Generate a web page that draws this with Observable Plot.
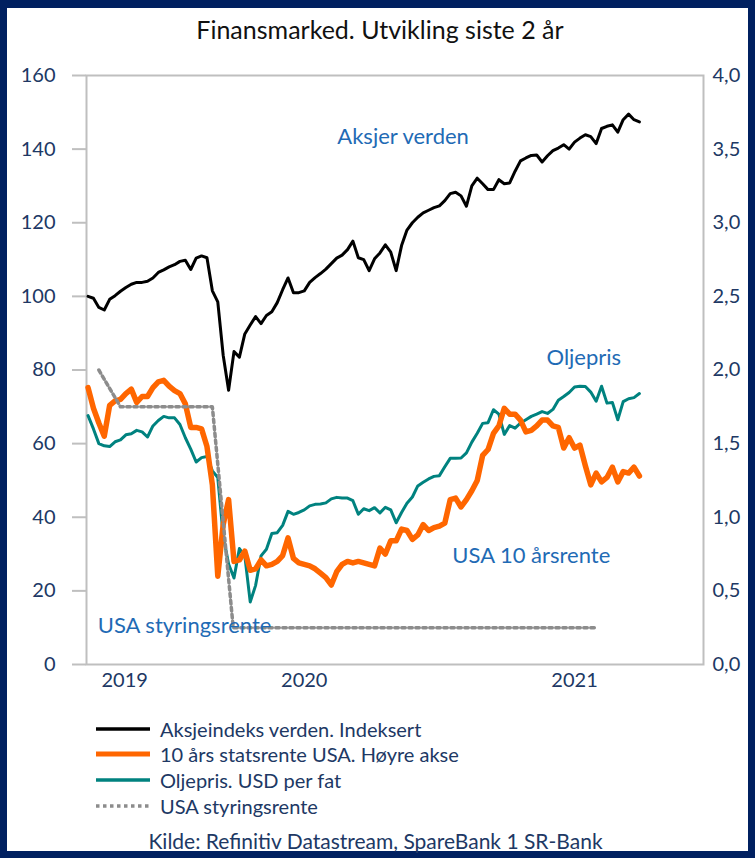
<!DOCTYPE html>
<html><head><meta charset="utf-8">
<script src="https://cdn.jsdelivr.net/npm/d3@7"></script>
<script src="https://cdn.jsdelivr.net/npm/@observablehq/plot@0.6"></script>
<style>
html,body{margin:0;padding:0;background:#fff;}
#page{position:relative;width:755px;height:858px;background:#002060;overflow:hidden;font-family:Lato,"Open Sans",sans-serif;}
#inner{position:absolute;left:7px;top:8px;width:741px;height:843px;background:#fff;}
#chart{position:absolute;left:0;top:0;}
#title{position:absolute;left:0;width:760px;top:14px;text-align:center;font-size:25px;color:#111;}
#legend{position:absolute;left:96px;top:716px;color:#203864;font-size:20px;}
.row{display:flex;align-items:center;height:25.6px;}
.row svg{margin-right:10px;}
#caption{position:absolute;left:0;width:751px;top:828px;text-align:center;font-size:21px;color:#203864;}
</style></head>
<body>
<div id="page">
  <div id="inner"></div>
  <div id="title"></div>
  <div id="chart"></div>
  <div id="legend"></div>
  <div id="caption"></div>
</div>
<script>
// ---------- data ----------
const titleText = "Finansmarked. Utvikling siste 2 år";
const captionText = "Kilde: Refinitiv Datastream, SpareBank 1 SR-Bank";
const startDate = "2019-09-26";           // weekly observations from this date
const stockIndex = [100.0, 99.5, 97.0, 96.3, 99.2, 100.2, 101.4, 102.4, 103.3, 103.8,
 103.8, 104.1, 105.0, 106.5, 107.2, 108.0, 108.6, 109.5, 109.8, 107.3,
 110.4, 111.0, 110.5, 101.5, 98.5, 84.0, 74.5, 85.0, 83.5, 89.8,
 92.2, 94.5, 92.6, 94.8, 95.8, 98.3, 101.8, 105.0, 101.0, 101.0,
 101.5, 103.8, 105.1, 106.2, 107.4, 108.9, 110.4, 111.2, 112.7, 115.0,
 110.5, 110.0, 107.0, 110.2, 111.8, 114.0, 112.0, 107.0, 113.8, 118.0,
 120.0, 121.5, 122.7, 123.4, 124.1, 124.6, 126.0, 127.9, 128.3, 127.3,
 124.5, 130.0, 132.1, 130.6, 129.0, 129.0, 131.7, 130.6, 130.8, 134.0,
 136.8, 137.6, 138.3, 138.4, 136.5, 138.2, 139.6, 140.3, 141.2, 140.0,
 141.9, 143.0, 143.9, 143.4, 141.5, 145.6, 146.2, 146.6, 144.6, 148.0,
 149.5, 148.0, 147.4];
const us10y = [1.88, 1.74, 1.64, 1.55, 1.76, 1.79, 1.80, 1.84, 1.87, 1.78,
 1.82, 1.82, 1.88, 1.92, 1.93, 1.89, 1.86, 1.84, 1.77, 1.61,
 1.61, 1.60, 1.48, 1.22, 0.60, 0.95, 1.12, 0.70, 0.71, 0.77,
 0.64, 0.65, 0.71, 0.67, 0.68, 0.70, 0.74, 0.86, 0.72, 0.69,
 0.68, 0.67, 0.65, 0.62, 0.59, 0.54, 0.63, 0.68, 0.70, 0.69,
 0.70, 0.69, 0.68, 0.67, 0.79, 0.75, 0.84, 0.84, 0.92, 0.91,
 0.85, 0.88, 0.95, 0.91, 0.93, 0.94, 0.96, 1.12, 1.13, 1.07,
 1.12, 1.18, 1.25, 1.42, 1.46, 1.57, 1.62, 1.74, 1.70, 1.70,
 1.66, 1.58, 1.59, 1.62, 1.66, 1.66, 1.62, 1.61, 1.47, 1.54,
 1.47, 1.49, 1.35, 1.22, 1.30, 1.24, 1.27, 1.34, 1.24, 1.31,
 1.30, 1.34, 1.28];
const oilPrice = [67.6, 64.0, 60.0, 59.4, 59.2, 60.5, 61.0, 62.4, 62.7, 63.6,
 63.2, 61.8, 64.8, 66.3, 67.4, 67.0, 67.0, 65.2, 61.6, 58.5,
 55.0, 56.2, 56.5, 52.6, 50.8, 35.0, 27.3, 23.5, 31.5, 29.5,
 17.0, 21.5, 29.5, 31.3, 35.6, 35.8, 37.8, 41.6, 40.8, 41.3,
 42.0, 43.1, 43.5, 43.6, 43.9, 45.0, 45.4, 45.2, 45.2, 44.5,
 40.8, 42.3, 41.8, 42.6, 41.2, 42.7, 42.0, 38.5, 41.3, 43.8,
 45.5, 48.5, 49.5, 50.4, 51.1, 51.3, 53.7, 56.0, 56.0, 56.1,
 57.5, 60.4, 62.8, 65.5, 65.7, 69.2, 68.0, 62.5, 64.9, 64.2,
 65.6, 66.5, 67.4, 68.0, 68.7, 68.2, 69.3, 71.8, 72.8, 73.9,
 75.4, 75.6, 75.5, 74.0, 71.5, 75.6, 71.0, 71.2, 66.5, 71.4,
 72.2, 72.5, 73.6];
const fedDates = ["2019-10-10", "2019-11-07", "2020-03-05", "2020-04-01", "2021-07-17"];
const fedRate = [2.0, 1.75, 1.75, 0.25, 0.25];
const leftTicks = [0, 20, 40, 60, 80, 100, 120, 140, 160];
const rightTickLabels = ["0,0", "0,5", "1,0", "1,5", "2,0", "2,5", "3,0", "3,5", "4,0"];
const yearLabels = ["2019", "2020", "2021"];
const xDomain = ["2019-09-24", "2021-12-01"];
const annoText = ["Aksjer verden", "Oljepris", "USA 10 årsrente", "USA styringsrente"];
const annoDates = ["2020-11-07", "2021-06-29", "2021-04-22", "2020-01-29"];
const annoValues = [143.2, 83.4, 29.6, 10.6];
const legendLabels = ["Aksjeindeks verden. Indeksert", "10 års statsrente USA. Høyre akse", "Oljepris. USD per fat", "USA styringsrente"];

// ---------- styles ----------
const FONT = "Lato, 'Open Sans', sans-serif";
const NAVY = "#203864", BLUE = "#1f6bb5", GRID = "#bfbfbf";
const BLACK = "#000000", ORANGE = "#ff6600", TEAL = "#00827f", GRAY = "#8c8c8c";
const RIGHT_SCALE = 40; // right axis (%) -> left axis units

const parse = s => new Date(s + "T00:00:00Z");
const x0 = parse(xDomain[0]), x1 = parse(xDomain[1]);
const weekly = arr => arr.map((v, i) => ({date: d3.utcDay.offset(parse(startDate), 7 * i), v}));
const stockData = weekly(stockIndex);
const oilData = weekly(oilPrice);
const rateData = weekly(us10y);
const fedData = fedDates.map((d, i) => ({date: parse(d), v: fedRate[i]}));
const annoData = annoText.map((t, i) => ({t, date: parse(annoDates[i]), v: annoValues[i]}));
const yearMid = yearLabels.map(y => {
  const a = Math.max(+parse(`${y}-01-01`), +x0), b = Math.min(+parse(`${+y + 1}-01-01`), +x1);
  return new Date((a + b) / 2);
});

const chart = Plot.plot({
  width: 755, height: 700,
  marginTop: 75, marginLeft: 86, marginRight: 52, marginBottom: 36,
  style: {fontFamily: FONT, fontSize: "20px", background: "transparent", overflow: "visible"},
  x: {type: "utc", domain: [x0, x1]},
  y: {domain: [0, 160]},
  marks: [
    Plot.frame({stroke: GRID, strokeWidth: 2}),
    Plot.axisY(leftTicks, {anchor: "left", tickSize: 14, tickPadding: 17, stroke: GRID, strokeWidth: 2, color: NAVY, fill: NAVY, label: null, fontSize: 20}),
    Plot.axisY(leftTicks, {anchor: "right", tickSize: 0, tickPadding: 9, color: NAVY, fill: NAVY, label: null, fontSize: 20,
      tickFormat: d => rightTickLabels[leftTicks.indexOf(d)]}),
    Plot.axisX(yearMid, {anchor: "bottom", tickSize: 0, tickPadding: 8, color: NAVY, fill: NAVY, label: null, fontSize: 20,
      tickFormat: d => yearLabels[yearMid.findIndex(m => +m === +d)]}),
    Plot.line(oilData, {x: "date", y: "v", stroke: TEAL, strokeWidth: 3, strokeLinejoin: "round"}),
    Plot.line(stockData, {x: "date", y: "v", stroke: BLACK, strokeWidth: 3, strokeLinejoin: "round"}),
    Plot.line(rateData, {x: "date", y: d => d.v * RIGHT_SCALE, stroke: ORANGE, strokeWidth: 5.5, strokeLinejoin: "round"}),
    Plot.line(fedData, {x: "date", y: d => d.v * RIGHT_SCALE, stroke: GRAY, strokeWidth: 3.5, strokeDasharray: "3.5,3.5"}),
    Plot.text(annoData, {x: "date", y: "v", text: "t", fill: BLUE, fontSize: 22, textAnchor: "middle"})
  ]
});
document.getElementById("chart").appendChild(chart);

document.getElementById("title").textContent = titleText;
document.getElementById("caption").textContent = captionText;

const swatches = [
  {stroke: BLACK, width: 3.5, dash: null},
  {stroke: ORANGE, width: 5, dash: null},
  {stroke: TEAL, width: 3.5, dash: null},
  {stroke: GRAY, width: 3.5, dash: "3.5,3.5"}
];
const legend = document.getElementById("legend");
legendLabels.forEach((lab, i) => {
  const s = swatches[i];
  const row = document.createElement("div");
  row.className = "row";
  row.innerHTML = `<svg width="54" height="8"><line x1="0" x2="54" y1="4" y2="4" stroke="${s.stroke}" stroke-width="${s.width}" ${s.dash ? `stroke-dasharray="${s.dash}"` : ""}/></svg><span>${lab}</span>`;
  legend.appendChild(row);
});
</script>
</body></html>
